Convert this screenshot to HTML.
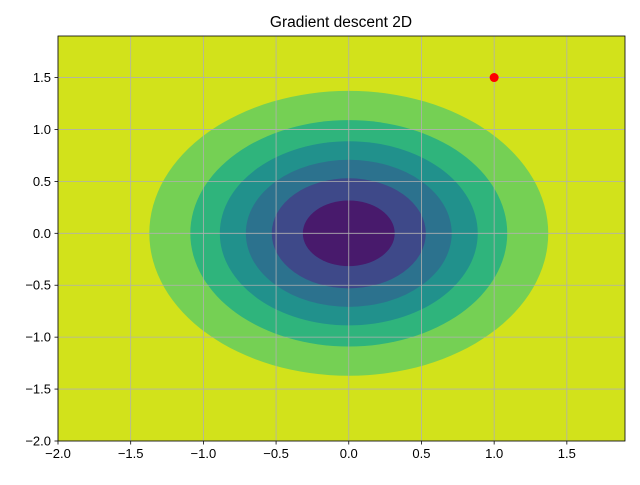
<!DOCTYPE html>
<html><head><meta charset="utf-8"><style>
body{margin:0;background:#fff}
svg text{font-family:"Liberation Sans","DejaVu Sans",sans-serif;font-size:13px;fill:#000}
</style></head><body>
<svg id="chart" width="640" height="480" xmlns="http://www.w3.org/2000/svg">
<text x="341" y="27" text-anchor="middle" style="font-size:15.5px">Gradient descent 2D</text>
<g id="plot"></g>
</svg>
<script>
const levelRadii=[1.372,1.09,0.887,0.708,0.53,0.316];
const levelColors=['#75d054','#2fb47c','#21918c','#2c728e','#3e4989','#481a6c'];
const xTicks=[-2.0,-1.5,-1.0,-0.5,0.0,0.5,1.0,1.5];
const yTicks=[-2.0,-1.5,-1.0,-0.5,0.0,0.5,1.0,1.5];
const pointX=[1.0];
const pointY=[1.5];
const xMin=-2,xMax=1.9,yMin=-2,yMax=1.9;
const L=58,R=625,T=36,B=441;
const sx=v=>L+(v-xMin)/(xMax-xMin)*(R-L);
const sy=v=>B-(v-yMin)/(yMax-yMin)*(B-T);
const NS='http://www.w3.org/2000/svg';
const g=document.getElementById('plot');
function mk(t,a){const e=document.createElementNS(NS,t);for(const k in a)e.setAttribute(k,a[k]);g.appendChild(e);return e;}
const bg=mk('rect',{x:L,y:T,width:R-L,height:B-T,fill:'#d2e21b'});


levelRadii.forEach((r,i)=>{
 const e=mk('ellipse',{cx:sx(0),cy:sy(0),rx:sx(r)-sx(0),ry:sy(0)-sy(r),fill:levelColors[i]});
 
 
});
xTicks.forEach(v=>{
 const x=sx(v);
 const gl=mk('line',{x1:x,x2:x,y1:T,y2:B,stroke:'#b0b0b0','stroke-width':0.8});
 
 
 mk('line',{x1:x,x2:x,y1:B,y2:B+3.5,stroke:'#000','stroke-width':0.8});
 const t=mk('text',{x:x,y:B+17,'text-anchor':'middle'});t.textContent=v.toFixed(1).replace('-','\u2212');
 
 
});
yTicks.forEach(v=>{
 const y=sy(v);
 const gl=mk('line',{x1:L,x2:R,y1:y,y2:y,stroke:'#b0b0b0','stroke-width':0.8});
 
 
 mk('line',{x1:L-3.5,x2:L,y1:y,y2:y,stroke:'#000','stroke-width':0.8});
 const t=mk('text',{x:L-7,y:y+4.5,'text-anchor':'end'});t.textContent=v.toFixed(1).replace('-','\u2212');
 
 
});
pointX.forEach((px,i)=>{
 const c=mk('circle',{cx:sx(px),cy:sy(pointY[i]),r:4.5,fill:'#ff0000'});
 
 
});
const fr=mk('rect',{x:L,y:T,width:R-L,height:B-T,fill:'none',stroke:'#000','stroke-width':0.8});


</script>
</body></html>
